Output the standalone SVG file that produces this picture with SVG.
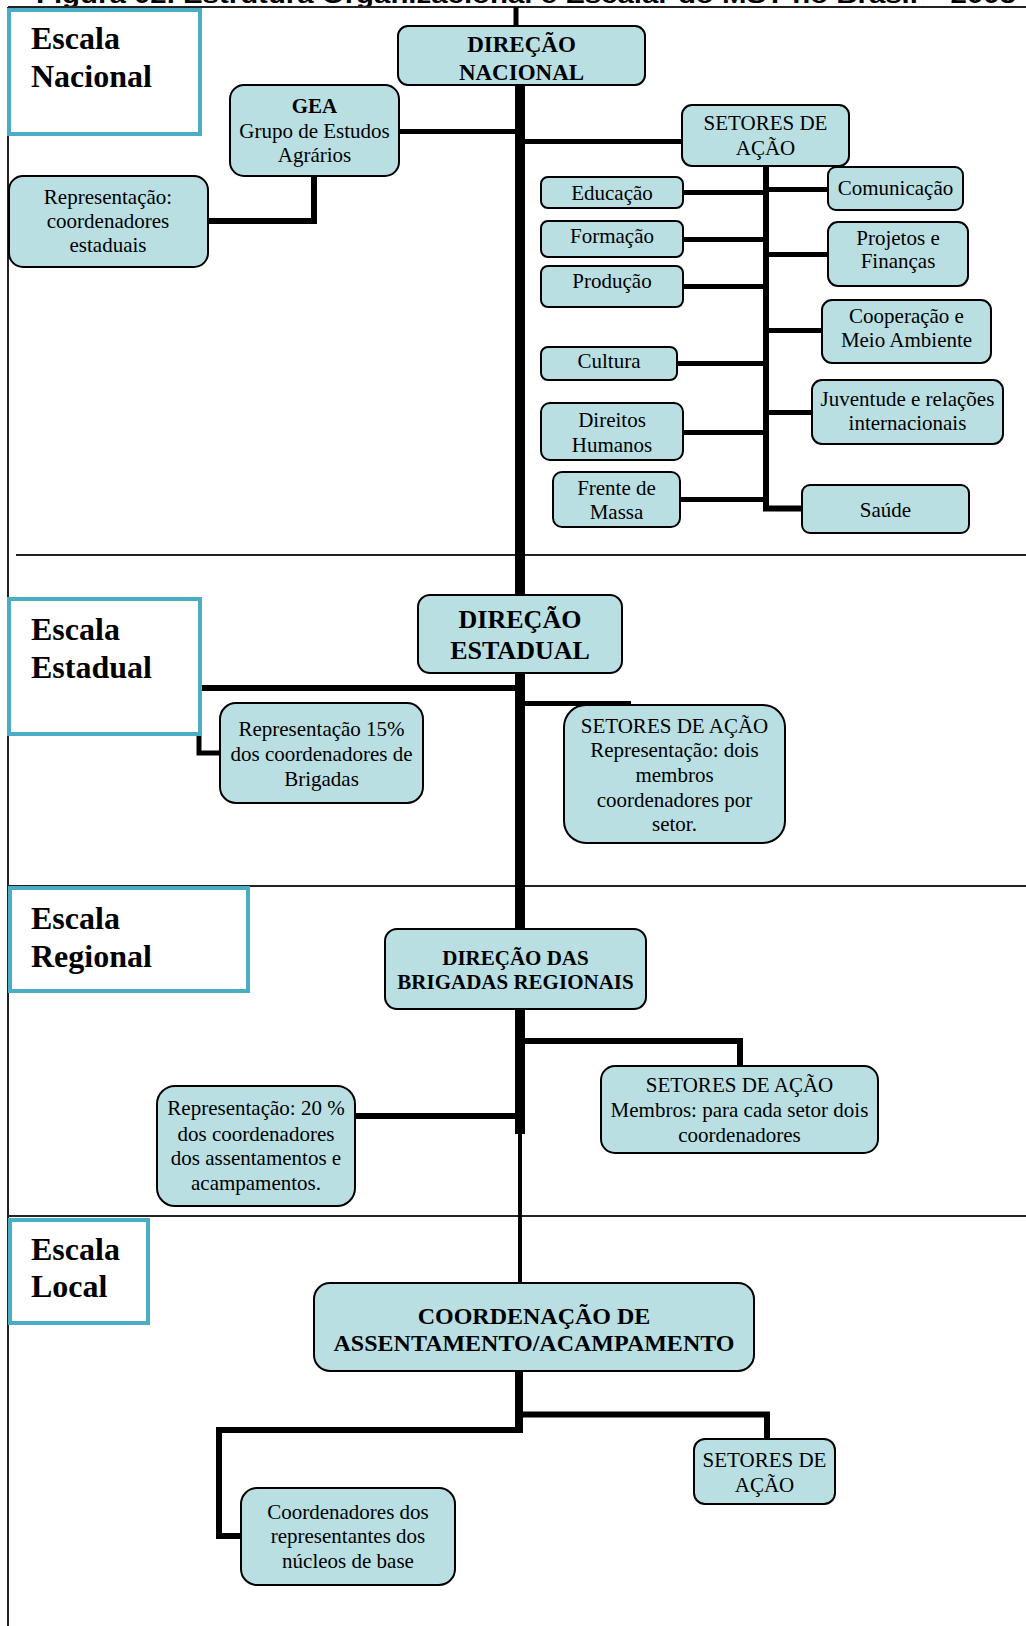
<svg xmlns="http://www.w3.org/2000/svg" width="1026" height="1626" viewBox="0 0 1026 1626">
<style>
.bg{fill:#fff}
.frame{stroke:#222;stroke-width:2;fill:none}
.scale{fill:#fff;stroke:#4bacc6;stroke-width:4}
.node{fill:#b9dfe2;stroke:#000;stroke-width:2}
.lbl{font-family:"Liberation Serif","Times New Roman",serif;font-size:32px;font-weight:bold;fill:#000}
.t{font-family:"Liberation Serif","Times New Roman",serif;font-size:21px;fill:#000;text-anchor:middle}
.b{font-weight:bold}
.s23{font-size:23px}
.s24{font-size:24px}
.s26{font-size:26px}
.c{stroke:#000;fill:none;stroke-linejoin:miter;stroke-linecap:butt}
.title{font-family:"Liberation Sans",Arial,sans-serif;font-size:24px;font-weight:bold;fill:#000}
</style>
<rect class="bg" x="0" y="0" width="1026" height="1626"/>
<text class="title" x="36" y="3" textLength="980" lengthAdjust="spacingAndGlyphs">Figura 02. Estrutura Organizacional e Escalar do MST no Brasil – 2005</text>
<g id="frame">
<path class="frame" d="M8,7 H1026 M8,7 V1626 M16,555 H1026 M8,886 H1026 M8,1216 H1026"/>
</g>
<g id="connectors">
<path class="c" stroke-width="5" d="M516,7 V28"/>
<path class="c" stroke-width="10" d="M520,80 V1134"/>
<path class="c" stroke-width="4" d="M520,1134 V1285"/>
<path class="c" stroke-width="8" d="M519,1369 V1433"/>
<path class="c" stroke-width="5" d="M397,131.5 H516"/>
<path class="c" stroke-width="5" d="M524,141.5 H684"/>
<path class="c" stroke-width="6" d="M314,175 V221 H206"/>
<path class="c" stroke-width="6" d="M766,164 V508.5 H803"/>
<path class="c" stroke-width="5" d="M681,192.5 H766 M681,239.5 H766 M681,286.5 H766 M675,363.5 H766 M681,432.5 H766 M678,499.5 H766"/>
<path class="c" stroke-width="5" d="M766,189.5 H830 M766,254.5 H830 M766,330.5 H824 M766,412.5 H814"/>
<path class="c" stroke-width="6" d="M200,688 H516"/>
<path class="c" stroke-width="5" d="M199,736 V753 H222"/>
<path class="c" stroke-width="5" d="M524,703.5 H631"/>
<path class="c" stroke-width="6" d="M524,1041 H740 V1068"/>
<path class="c" stroke-width="6" d="M353,1116 H516"/>
<path class="c" stroke-width="6" d="M522,1414.5 H767 V1441"/>
<path class="c" stroke-width="6" d="M516,1430 H219 V1536 H243"/>
</g>
<g id="escala-nacional">
<rect class="scale" x="9" y="10" width="191" height="124"/>
<text class="lbl" x="31" y="49">Escala</text>
<text class="lbl" x="31" y="87">Nacional</text>
</g>
<g id="direcao-nacional">
<rect class="node" x="398" y="26" width="247" height="59" rx="10"/>
<text class="t b s23" x="521.5" y="52">DIREÇÃO</text>
<text class="t b s23" x="521.5" y="80">NACIONAL</text>
</g>
<g id="gea">
<rect class="node" x="230" y="85" width="169" height="91" rx="14"/>
<text class="t b" x="314.5" y="113">GEA</text>
<text class="t" x="314.5" y="138">Grupo de Estudos</text>
<text class="t" x="314.5" y="162">Agrários</text>
</g>
<g id="rep-estaduais">
<rect class="node" x="9" y="176" width="199" height="91" rx="14"/>
<text class="t" x="108" y="204">Representação:</text>
<text class="t" x="108" y="228">coordenadores</text>
<text class="t" x="108" y="252">estaduais</text>
</g>
<g id="setores-nacional">
<rect class="node" x="682" y="105" width="167" height="61" rx="10"/>
<text class="t" x="765.5" y="130">SETORES DE</text>
<text class="t" x="765.5" y="155">AÇÃO</text>
</g>
<g id="educacao">
<rect class="node" x="541" y="177" width="142" height="31" rx="7"/>
<text class="t" x="612" y="200">Educação</text>
</g>
<g id="formacao">
<rect class="node" x="541" y="221" width="142" height="36" rx="7"/>
<text class="t" x="612" y="243">Formação</text>
</g>
<g id="producao">
<rect class="node" x="541" y="266" width="142" height="41" rx="7"/>
<text class="t" x="612" y="288">Produção</text>
</g>
<g id="cultura">
<rect class="node" x="541" y="347" width="136" height="33" rx="7"/>
<text class="t" x="609" y="368">Cultura</text>
</g>
<g id="direitos-humanos">
<rect class="node" x="541" y="403" width="142" height="57" rx="9"/>
<text class="t" x="612" y="427">Direitos</text>
<text class="t" x="612" y="452">Humanos</text>
</g>
<g id="frente-de-massa">
<rect class="node" x="553" y="472" width="127" height="55" rx="9"/>
<text class="t" x="616.5" y="495">Frente de</text>
<text class="t" x="616.5" y="519">Massa</text>
</g>
<g id="comunicacao">
<rect class="node" x="828" y="167" width="135" height="43" rx="8"/>
<text class="t" x="895.5" y="195">Comunicação</text>
</g>
<g id="projetos-financas">
<rect class="node" x="828" y="222" width="140" height="64" rx="10"/>
<text class="t" x="898" y="245">Projetos e</text>
<text class="t" x="898" y="268">Finanças</text>
</g>
<g id="cooperacao">
<rect class="node" x="822" y="300" width="169" height="63" rx="10"/>
<text class="t" x="906.5" y="323">Cooperação e</text>
<text class="t" x="906.5" y="347">Meio Ambiente</text>
</g>
<g id="juventude">
<rect class="node" x="812" y="380" width="191" height="64" rx="10"/>
<text class="t" x="907.5" y="406">Juventude e relações</text>
<text class="t" x="907.5" y="430">internacionais</text>
</g>
<g id="saude">
<rect class="node" x="802" y="485" width="167" height="48" rx="8"/>
<text class="t" x="885.5" y="517">Saúde</text>
</g>
<g id="escala-estadual">
<rect class="scale" x="9" y="599" width="191" height="135"/>
<text class="lbl" x="31" y="640">Escala</text>
<text class="lbl" x="31" y="678">Estadual</text>
</g>
<g id="direcao-estadual">
<rect class="node" x="418" y="595" width="204" height="78" rx="12"/>
<text class="t b s26" x="520" y="628">DIREÇÃO</text>
<text class="t b s26" x="520" y="659">ESTADUAL</text>
</g>
<g id="rep-15">
<rect class="node" x="220" y="703" width="203" height="100" rx="16"/>
<text class="t" x="321.5" y="736">Representação 15%</text>
<text class="t" x="321.5" y="761">dos coordenadores de</text>
<text class="t" x="321.5" y="786">Brigadas</text>
</g>
<g id="setores-estadual">
<rect class="node" x="564" y="705" width="221" height="138" rx="22"/>
<text class="t" x="674.5" y="733">SETORES DE AÇÃO</text>
<text class="t" x="674.5" y="757">Representação: dois</text>
<text class="t" x="674.5" y="782">membros</text>
<text class="t" x="674.5" y="807">coordenadores por</text>
<text class="t" x="674.5" y="831">setor.</text>
</g>
<g id="escala-regional">
<rect class="scale" x="10" y="888" width="238" height="103"/>
<text class="lbl" x="31" y="929">Escala</text>
<text class="lbl" x="31" y="967">Regional</text>
</g>
<g id="direcao-brigadas">
<rect class="node" x="385" y="929" width="261" height="80" rx="12"/>
<text class="t b" x="515.5" y="965">DIREÇÃO DAS</text>
<text class="t b" x="515.5" y="989">BRIGADAS REGIONAIS</text>
</g>
<g id="setores-regional">
<rect class="node" x="601" y="1066" width="277" height="87" rx="14"/>
<text class="t" x="739.5" y="1092">SETORES DE AÇÃO</text>
<text class="t" x="739.5" y="1117">Membros: para cada setor dois</text>
<text class="t" x="739.5" y="1142">coordenadores</text>
</g>
<g id="rep-20">
<rect class="node" x="157" y="1086" width="198" height="120" rx="18"/>
<text class="t" x="256" y="1115">Representação: 20 %</text>
<text class="t" x="256" y="1141">dos coordenadores</text>
<text class="t" x="256" y="1165">dos assentamentos e</text>
<text class="t" x="256" y="1190">acampamentos.</text>
</g>
<g id="escala-local">
<rect class="scale" x="10" y="1220" width="138" height="103"/>
<text class="lbl" x="31" y="1260">Escala</text>
<text class="lbl" x="31" y="1297">Local</text>
</g>
<g id="coordenacao">
<rect class="node" x="314" y="1283" width="440" height="88" rx="16"/>
<text class="t b s24" x="534" y="1324">COORDENAÇÃO DE</text>
<text class="t b s24" x="534" y="1351">ASSENTAMENTO/ACAMPAMENTO</text>
</g>
<g id="setores-local">
<rect class="node" x="694" y="1439" width="141" height="65" rx="11"/>
<text class="t" x="764.5" y="1467">SETORES DE</text>
<text class="t" x="764.5" y="1492">AÇÃO</text>
</g>
<g id="coordenadores-nucleos">
<rect class="node" x="241" y="1488" width="214" height="97" rx="16"/>
<text class="t" x="348" y="1519">Coordenadores dos</text>
<text class="t" x="348" y="1543">representantes dos</text>
<text class="t" x="348" y="1568">núcleos de base</text>
</g>
</svg>
